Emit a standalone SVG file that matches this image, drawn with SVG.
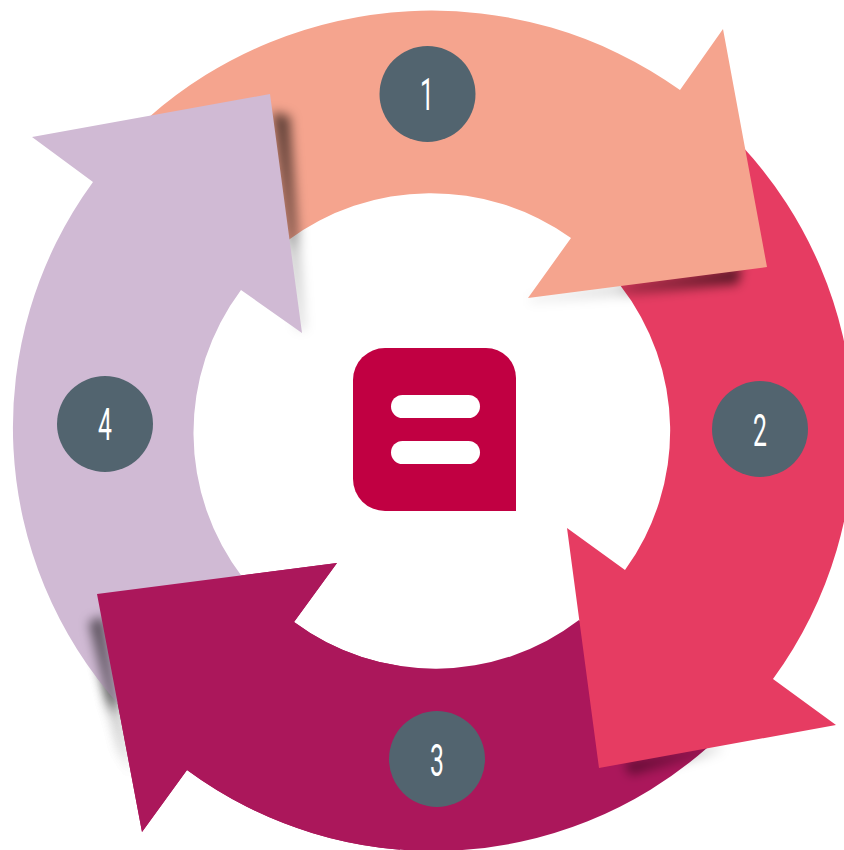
<svg xmlns="http://www.w3.org/2000/svg" width="844" height="850" viewBox="0 0 844 850">
  <style>
    .badge { fill: #52646f; }
    .num { fill: #ffffff; font-family: "Roboto", "Liberation Sans", sans-serif; font-size: 45px; text-anchor: middle; }
    .shadow { filter: url(#blur); }
  </style>
  <defs>
    <filter id="blur" x="-40%" y="-40%" width="180%" height="180%"><feGaussianBlur stdDeviation="5.5"/></filter>
    <clipPath id="headClip"><rect x="0" y="400" width="400" height="450"/></clipPath>
    <linearGradient id="sh4" gradientUnits="userSpaceOnUse" x1="280" y1="110" x2="300" y2="330">
      <stop offset="0" stop-color="#000" stop-opacity="0.6"/><stop offset="0.55" stop-color="#000" stop-opacity="0.4"/><stop offset="0.65" stop-color="#000" stop-opacity="0.2"/><stop offset="1" stop-color="#000" stop-opacity="0.1"/>
    </linearGradient>
    <linearGradient id="sh1" gradientUnits="userSpaceOnUse" x1="742" y1="275" x2="530" y2="300">
      <stop offset="0" stop-color="#000" stop-opacity="0.6"/><stop offset="0.5" stop-color="#000" stop-opacity="0.3"/><stop offset="0.6" stop-color="#000" stop-opacity="0.12"/><stop offset="1" stop-color="#000" stop-opacity="0.06"/>
    </linearGradient>
    <linearGradient id="sh2" gradientUnits="userSpaceOnUse" x1="625" y1="770" x2="725" y2="745">
      <stop offset="0" stop-color="#000" stop-opacity="0.45"/><stop offset="0.7" stop-color="#000" stop-opacity="0.2"/><stop offset="1" stop-color="#000" stop-opacity="0.02"/>
    </linearGradient>
    <linearGradient id="sh3" gradientUnits="userSpaceOnUse" x1="95" y1="610" x2="125" y2="770">
      <stop offset="0" stop-color="#000" stop-opacity="0.6"/><stop offset="0.55" stop-color="#000" stop-opacity="0.4"/><stop offset="0.65" stop-color="#000" stop-opacity="0.12"/><stop offset="1" stop-color="#000" stop-opacity="0.05"/>
    </linearGradient>
    <g id="arrow3shape">
      <polygon class="shadow" fill="url(#sh3)" points="103,616 89,622 118,750 132,775"/>
      <path fill="#ab175b" d="M707,748 A415,415 0 0 1 187,770 L142,832 L97,594 L337,563 L294,622 A237,237 0 0 0 579,620 Z"/>
    </g>
  </defs>
  <rect width="844" height="850" fill="#ffffff"/>

  <g id="arrow-3"><use href="#arrow3shape"/></g>

  <g id="arrow-2">
    <polygon class="shadow" fill="url(#sh2)" points="624,762 630,775 722,752 722,742"/>
    <path fill="#e63c62" d="M742,146 A420,420 0 0 1 773,679 L836,725 L599,768 L567,528 L625,570 A237,237 0 0 0 620,285 Z"/>
  </g>

  <g id="arrow-1">
    <polygon class="shadow" fill="url(#sh1)" points="742,266 738,284 620,296 530,303 530,296"/>
    <path fill="#f5a48e" d="M148,118 A428,428 0 0 1 680,90 L723,29 L767,267 L528,298 L571,238 A241,241 0 0 0 287,241 Z"/>
  </g>

  <g id="arrow-4">
    <polygon class="shadow" fill="url(#sh4)" points="272,112 290,116 306,330 296,330"/>
    <path fill="#d0bad4" d="M120,706 A416,416 0 0 1 93,182 L32,137 L270,94 L302,333 L241,290 A238,238 0 0 0 243,578 Z"/>
  </g>

  <g id="arrow-3-head"><use href="#arrow3shape" clip-path="url(#headClip)"/></g>

  <g id="node-1">
    <circle class="badge" cx="427.5" cy="94" r="48"/>
    <text class="num" transform="translate(427 110) scale(0.55 1)">1</text>
  </g>
  <g id="node-2">
    <circle class="badge" cx="760" cy="429" r="48"/>
    <text class="num" transform="translate(760 446) scale(0.55 1)">2</text>
  </g>
  <g id="node-3">
    <circle class="badge" cx="437" cy="759" r="48"/>
    <text class="num" transform="translate(437 776) scale(0.55 1)">3</text>
  </g>
  <g id="node-4">
    <circle class="badge" cx="105" cy="424" r="48"/>
    <text class="num" transform="translate(105 440) scale(0.55 1)">4</text>
  </g>

  <g id="center-icon">
    <path fill="#c10042" d="M385,348 H486 A30,30 0 0 1 516,378 V511 H385 A32,32 0 0 1 353,479 V380 A32,32 0 0 1 385,348 Z"/>
    <rect x="391" y="395" width="89" height="23" rx="11.5" fill="#ffffff"/>
    <rect x="391" y="441" width="89" height="23" rx="11.5" fill="#ffffff"/>
  </g>
  <g id="connectors"></g>
</svg>
